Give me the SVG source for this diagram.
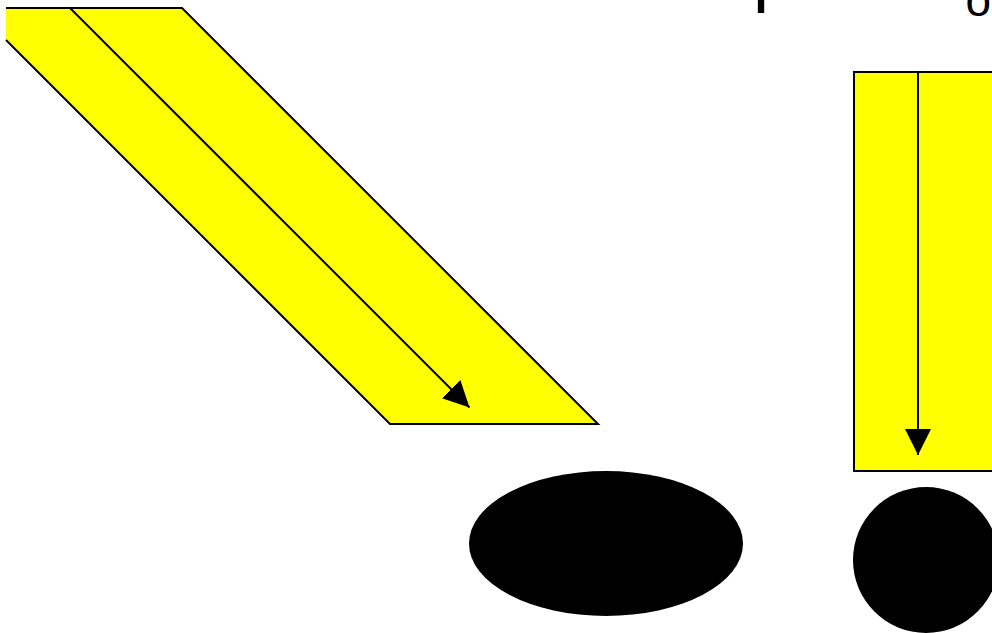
<svg xmlns="http://www.w3.org/2000/svg" width="992" height="633" viewBox="0 0 992 633">
  <style>
    .beam { fill: #ffff00; stroke: none; }
    .edge { fill: none; stroke: #000; stroke-width: 2; stroke-linejoin: miter; }
    .body { fill: #000; stroke: none; }
    .ray { fill: none; stroke: #000; stroke-width: 2; }
    .lbl { font-family: "Liberation Sans", Arial, sans-serif; fill: #000; }
  </style>
  <defs>
    <marker id="arrow" viewBox="0 0 26 26" markerWidth="26" markerHeight="26" refX="26" refY="13" orient="auto" markerUnits="userSpaceOnUse">
      <path d="M0,0 L26,13 L0,26 Z" fill="#000"/>
    </marker>
  </defs>
  <rect width="992" height="633" fill="#fff"/>

  <g id="title">
    <text class="lbl" x="753" y="-2" font-size="72">p</text>
    <text class="lbl" x="965.5" y="15.5" font-size="46">o</text>
  </g>

  <g id="oblique-beam">
    <polygon class="beam" points="6,8 182,8 598,424 390,424 6,40"/>
    <polyline class="edge" points="6,8 182,8 598,424 390,424 6,40"/>
  </g>

  <g id="vertical-beam">
    <rect class="beam" x="854" y="72" width="150" height="399"/>
    <rect class="edge" x="854" y="72" width="150" height="399"/>
  </g>

  <g id="ellipse-body">
    <ellipse class="body" cx="606" cy="543.5" rx="137" ry="72.5"/>
  </g>

  <g id="circle-body">
    <circle class="body" cx="926" cy="560" r="73"/>
  </g>

  <g id="connectors">
    <line class="ray" x1="70" y1="8" x2="469.5" y2="407.5" marker-end="url(#arrow)"/>
    <line class="ray" x1="918" y1="72" x2="918" y2="455" marker-end="url(#arrow)"/>
  </g>
</svg>
